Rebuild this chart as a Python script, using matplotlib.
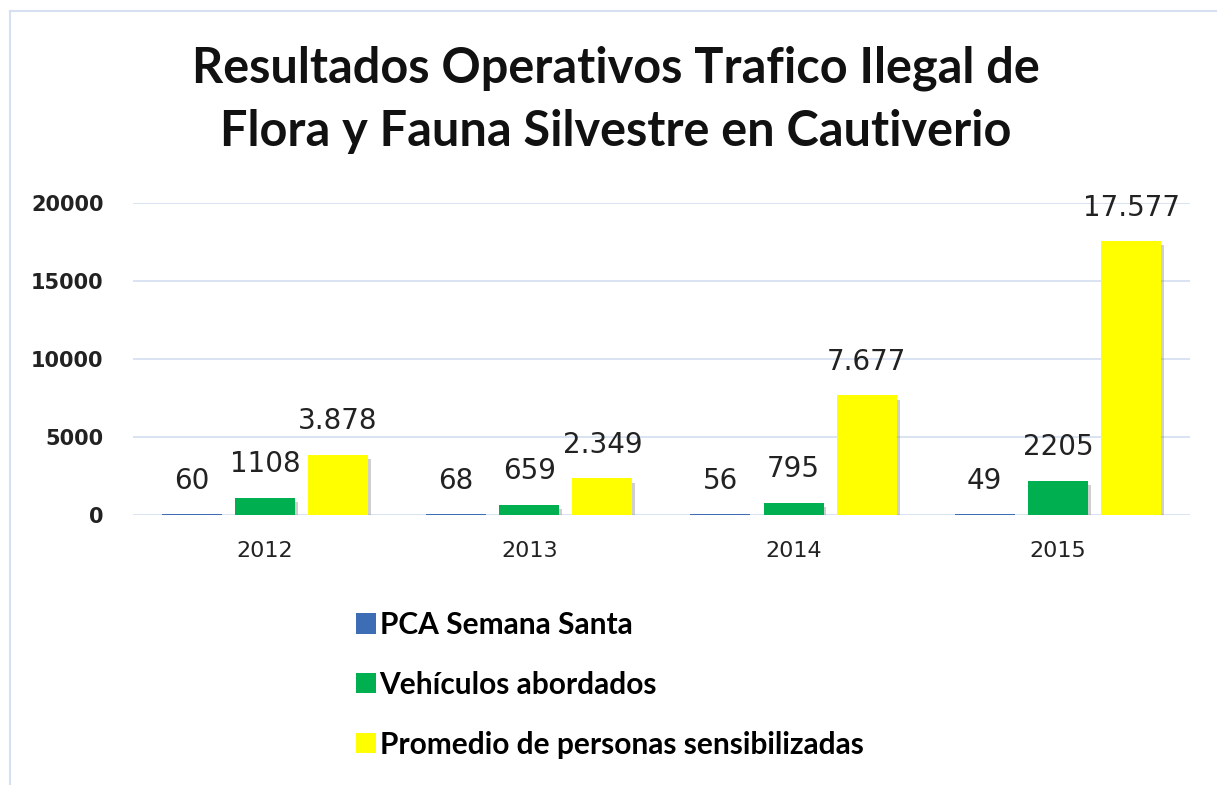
import numpy as np
import matplotlib
matplotlib.use("Agg")
import matplotlib.pyplot as plt
import matplotlib.patheffects as pe
from matplotlib.lines import Line2D

years = ["2012", "2013", "2014", "2015"]
series_names = ["PCA Semana Santa", "Vehículos abordados", "Promedio de personas sensibilizadas"]
pca = [60, 68, 56, 49]
vehiculos = [1108, 659, 795, 2205]
personas = [3878, 2349, 7677, 17577]
y_ticks = [0, 5000, 10000, 15000, 20000]

colors = ["#3C6DB5", "#00B050", "#FFFF00"]
label_fmt = [
    lambda v: f"{v}",
    lambda v: f"{v}",
    lambda v: f"{v:,}".replace(",", "."),
]

fig = plt.figure(figsize=(12.17, 7.85), dpi=100)
ax = fig.add_axes([0.109, 0.344, 0.869, 0.397])

x = np.arange(len(years))
width = 0.227
step = 0.277
shadow = [pe.withSimplePatchShadow(offset=(2, -3), shadow_rgbFace="#777777", alpha=0.35)]

handles = []
for i, (vals, col) in enumerate(zip([pca, vehiculos, personas], colors)):
    pos = x + (i - 1) * step
    fx = shadow if i > 0 else []
    bars = ax.bar(pos, vals, width=width, color=col, zorder=3, path_effects=fx)
    handles.append(bars)
    for xp, v in zip(pos, vals):
        ax.annotate(label_fmt[i](v), (xp, v), xytext=(0, 24), textcoords="offset points",
                    ha="center", va="center", fontsize=20, color="#222222",
                    annotation_clip=False, zorder=4)

ax.set_xlim(-0.5, len(years) - 0.5)
ax.set_ylim(0, 20000)
ax.set_yticks(y_ticks)
ax.set_yticklabels([str(t) for t in y_ticks], fontsize=15, fontweight="bold", color="#222222")
ax.set_xticks(x)
ax.set_xticklabels(years, fontsize=16, color="#222222")
ax.tick_params(length=0)
ax.tick_params(axis="x", pad=19)
ax.tick_params(axis="y", pad=21)
ax.grid(axis="y", color="#D6E0F0", linewidth=1.3, zorder=0)
for s in ax.spines.values():
    s.set_visible(False)

# chart border
fig.add_artist(Line2D([0.008, 1.0], [0.986, 0.986], color="#D6E0F0", lw=1.5))
fig.add_artist(Line2D([0.008, 0.008], [0.0, 0.986], color="#D6E0F0", lw=1.5))

fig.text(0.506, 0.873, "Resultados Operativos Trafico Ilegal de\nFlora y Fauna Silvestre en Cautiverio",
         ha="center", va="center", fontsize=35, fontweight="bold", family="Lato",
         linespacing=1.47, color="#111111")

leg = fig.legend(handles, series_names, loc="upper left", bbox_to_anchor=(0.28, 0.241),
                 frameon=False, prop={"family": "Lato", "weight": "bold", "size": 21.5},
                 handlelength=0.68, handleheight=0.68, handletextpad=0.12, labelspacing=1.07,
                 borderpad=0)
for h in leg.legend_handles:
    h.set_path_effects([])

fig.savefig("out.png", dpi=100)
